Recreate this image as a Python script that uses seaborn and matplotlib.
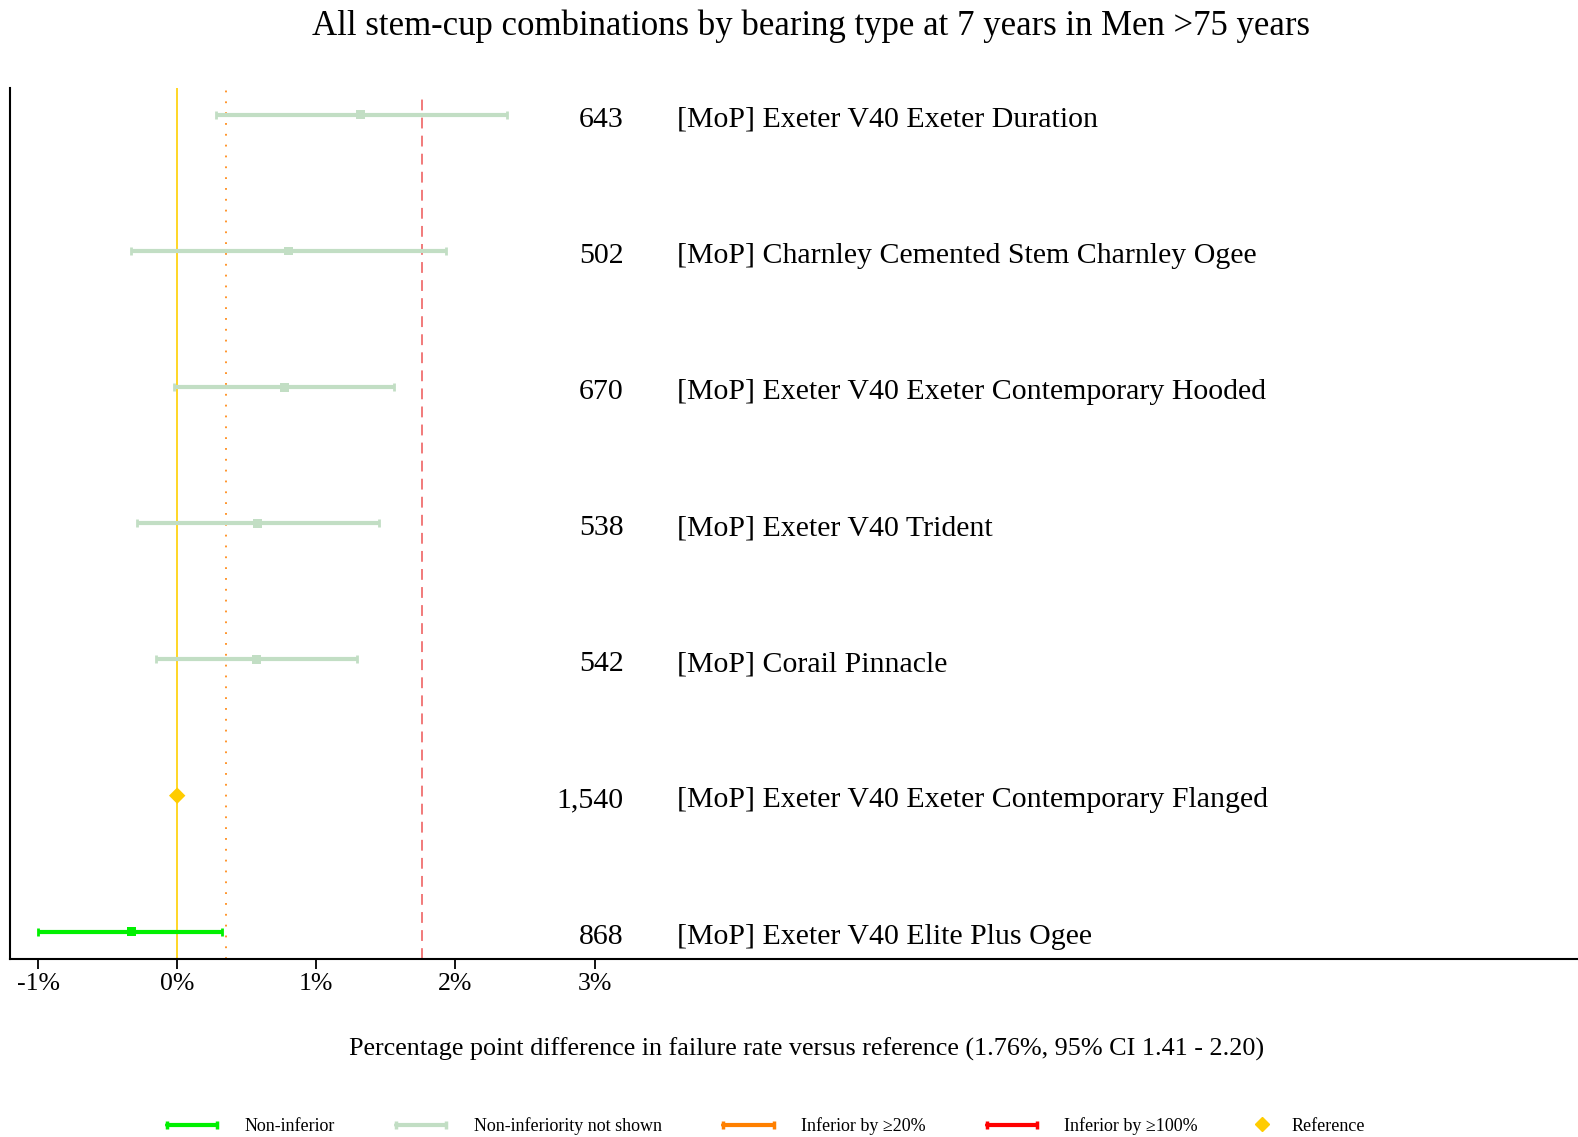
import numpy as np
import pandas as pd
import seaborn as sns
import matplotlib.pyplot as plt
from matplotlib.lines import Line2D

# DATA
labels = ['[MoP] Exeter V40 Exeter Duration',
          '[MoP] Charnley Cemented Stem Charnley Ogee',
          '[MoP] Exeter V40 Exeter Contemporary Hooded',
          '[MoP] Exeter V40 Trident',
          '[MoP] Corail Pinnacle',
          '[MoP] Exeter V40 Exeter Contemporary Flanged',
          '[MoP] Exeter V40 Elite Plus Ogee']
counts = ['643', '502', '670', '538', '542', '1,540', '868']
diff = [1.32, 0.80, 0.77, 0.58, 0.57, 0.0, -0.33]
ci_low = [0.28, -0.33, -0.02, -0.29, -0.15, 0.0, -1.00]
ci_high = [2.37, 1.93, 1.56, 1.45, 1.29, 0.0, 0.32]
status = ['Non-inferiority not shown'] * 5 + ['Reference', 'Non-inferior']

ref_rate = 1.76
margin_20 = 0.352

colors = {'Non-inferior': '#00F000',
          'Non-inferiority not shown': '#C2DEC4',
          'Inferior by \u226520%': '#FF8000',
          'Inferior by \u2265100%': '#FF0000',
          'Reference': '#FFCC00'}

df = pd.DataFrame({'label': labels, 'n': counts, 'diff': diff,
                   'lo': ci_low, 'hi': ci_high, 'status': status})
df['y'] = np.arange(len(df))[::-1]

# PLOT
sns.set_theme(style='white')
plt.rcParams['font.family'] = ['Liberation Serif', 'DejaVu Serif']
plt.rcParams['text.color'] = 'black'
plt.rcParams['axes.labelcolor'] = 'black'
plt.rcParams['xtick.color'] = 'black'

fig = plt.figure(figsize=(15.78, 11.37), dpi=100)
ax = fig.add_axes([0.0065, 0.1565, 0.9935, 0.7665])

ax.axvline(0, color='#FFD000', lw=1.2, zorder=1)
ax.axvline(margin_20, color='#FF8C1A', lw=1.3, ls=(0, (1, 5)), zorder=1)
ax.axvline(ref_rate, color='#F07070', lw=1.3, ls=(0, (6, 4)), ymax=0.993, zorder=1)

ci = df[df['status'] != 'Reference']
for st, grp in ci.groupby('status'):
    ax.errorbar(grp['diff'], grp['y'],
                xerr=[grp['diff'] - grp['lo'], grp['hi'] - grp['diff']],
                fmt='none', ecolor=colors[st], elinewidth=3, capsize=3,
                capthick=2, zorder=2)

sns.scatterplot(data=ci, x='diff', y='y', hue='status', palette=colors,
                marker='s', s=40, edgecolor='none', legend=False, ax=ax, zorder=3)
ref = df[df['status'] == 'Reference']
sns.scatterplot(data=ref, x='diff', y='y', color=colors['Reference'],
                marker='D', s=70, edgecolor='none', legend=False, ax=ax, zorder=3)

# row text sits a touch below the CI line, as in the original
for _, r in df.iterrows():
    ax.text(3.21, r['y'] - 0.035, r['n'], ha='right', va='center', fontsize=21.5)
    ax.text(3.59, r['y'] - 0.035, r['label'], ha='left', va='center', fontsize=21.5)

ax.set_xlim(-1.2, 10.07)
ax.set_ylim(-0.2, 6.2)
ax.set_yticks([])
ax.set_xticks([-1, 0, 1, 2, 3])
ax.set_xticklabels(['-1%', '0%', '1%', '2%', '3%'], fontsize=18.5)
ax.tick_params(axis='x', direction='out', length=7, width=1.3, color='black',
               bottom=True, pad=3)
for side in ['top', 'right']:
    ax.spines[side].set_visible(False)
for side in ['left', 'bottom']:
    ax.spines[side].set_color('black')
    ax.spines[side].set_linewidth(1.5)

ax.set_ylabel('')
ax.set_xlabel('Percentage point difference in failure rate versus reference '
              '(1.76%, 95% CI 1.41 - 2.20)', fontsize=18.8, labelpad=31)
ax.xaxis.label.set_x(0.508)
fig.suptitle('All stem-cup combinations by bearing type at 7 years in Men >75 years',
             fontsize=25, y=0.992, x=0.514)

names = ['Non-inferior', 'Non-inferiority not shown', 'Inferior by \u226520%',
         'Inferior by \u2265100%']
handles = [Line2D([], [], color=colors[nm], lw=3, marker='|', markersize=6,
                  markeredgewidth=2.5) for nm in names]
fig.legend(handles, names, loc='center', bbox_to_anchor=(0.4306, 0.0095), ncol=4,
           frameon=False, fontsize=13, numpoints=2, handlelength=3.4,
           handletextpad=1.2, columnspacing=3.1)

ref_h = Line2D([], [], color=colors['Reference'], ls='none', marker='D', markersize=7)
fig.legend([ref_h], ['Reference'], loc='center', bbox_to_anchor=(0.8288, 0.0095),
           frameon=False, fontsize=13, numpoints=1, handlelength=1.2,
           handletextpad=1.05)

fig.savefig('out.png', dpi=100)
